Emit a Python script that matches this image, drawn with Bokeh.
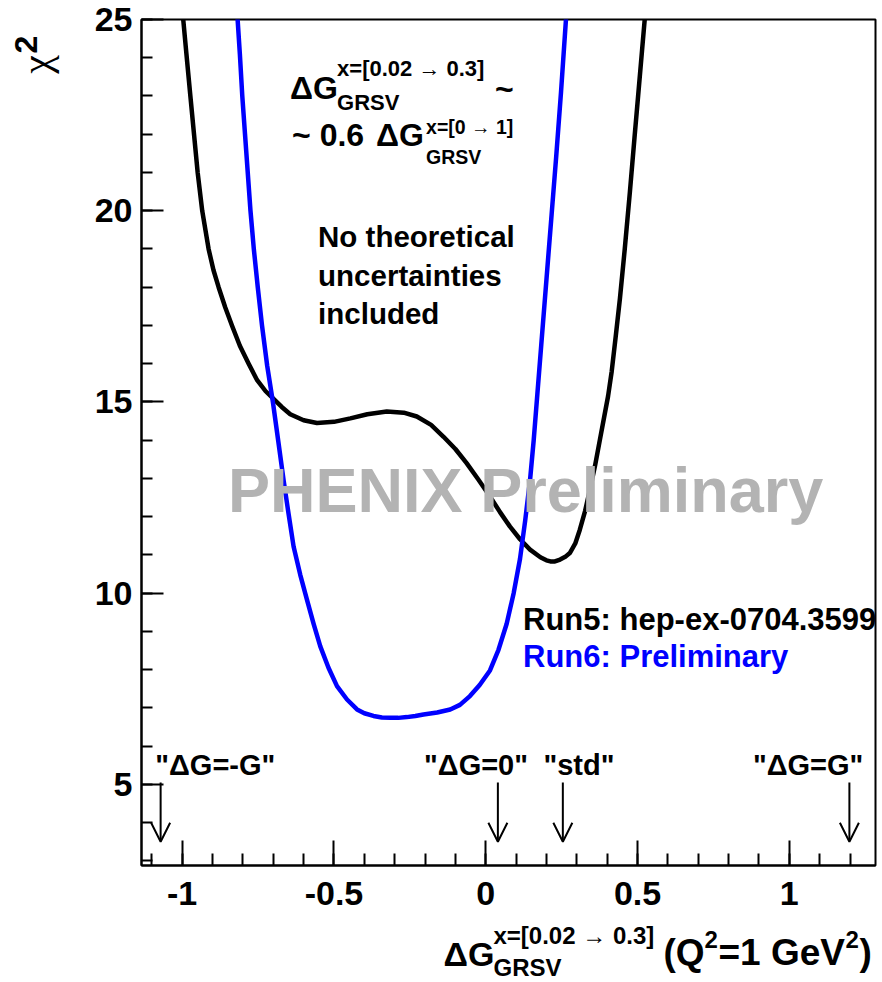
from bokeh.plotting import figure
from bokeh.layouts import column, row
from bokeh.models import Label, Arrow, OpenHead, FixedTicker, Range1d, ColumnDataSource
from bokeh.core.properties import value
from bokeh.embed import file_html
from bokeh.resources import INLINE

# ---------------- data ----------------
run5_x = [-1.000, -0.986, -0.973, -0.961, -0.949, -0.934, -0.913, -0.897, -0.880, -0.858,
          -0.836, -0.810, -0.781, -0.753, -0.725, -0.704, -0.672, -0.644, -0.600, -0.556,
          -0.500, -0.446, -0.390, -0.326, -0.270, -0.227, -0.180, -0.139, -0.100, -0.063,
          -0.025, 0.014, 0.047, 0.080, 0.113, 0.146, 0.180, 0.200, 0.213, 0.228,
          0.245, 0.262, 0.277, 0.295, 0.310, 0.327, 0.343, 0.360, 0.376, 0.390,
          0.403, 0.415, 0.428, 0.442, 0.458, 0.475, 0.490, 0.502, 0.515, 0.527]
run5_chi2 = [25.3, 24.1, 23.0, 22.0, 21.0, 20.0, 19.0, 18.45, 18.0, 17.47,
             17.0, 16.47, 16.0, 15.57, 15.28, 15.12, 14.87, 14.68, 14.52, 14.45,
             14.48, 14.57, 14.68, 14.75, 14.72, 14.62, 14.40, 14.09, 13.77, 13.40,
             12.98, 12.53, 12.12, 11.74, 11.41, 11.14, 10.94, 10.86, 10.83, 10.83,
             10.88, 10.95, 11.05, 11.30, 11.66, 12.14, 12.70, 13.33, 14.01, 14.6,
             15.15, 15.8, 16.7, 17.7, 19.0, 20.5, 21.9, 23.0, 24.2, 25.3]

run6_x = [-0.819, -0.810, -0.802, -0.793, -0.784, -0.775, -0.764, -0.751, -0.737, -0.720,
          -0.701, -0.683, -0.666, -0.650, -0.633, -0.611, -0.589, -0.567, -0.545, -0.518,
          -0.490, -0.457, -0.424, -0.400, -0.370, -0.342, -0.315, -0.288, -0.260, -0.232,
          -0.205, -0.160, -0.117, -0.085, -0.052, -0.020, 0.014, 0.042, 0.069, 0.092,
          0.113, 0.130, 0.146, 0.158, 0.170, 0.183, 0.200, 0.217, 0.232, 0.248, 0.266]
run6_chi2 = [25.2, 24.1, 23.0, 22.0, 21.0, 20.0, 19.0, 18.0, 17.0, 15.95,
             14.99, 13.95, 12.96, 12.1, 11.22, 10.48, 9.83, 9.2, 8.61, 8.05,
             7.57, 7.22, 6.96, 6.86, 6.79, 6.75, 6.74, 6.74, 6.76, 6.79,
             6.83, 6.88, 6.96, 7.08, 7.31, 7.60, 7.98, 8.52, 9.20, 10.0,
             10.9, 11.9, 12.96, 14.0, 15.2, 16.5, 18.2, 19.9, 21.4, 23.1, 25.2]

x_major = [-1, -0.5, 0, 0.5, 1]
x_major_labels = ["-1", "-0.5", "0", "0.5", "1"]
x_minor = [round(-1.1 + 0.1 * i, 2) for i in range(24)]
y_major = [5, 10, 15, 20, 25]
y_minor = list(range(3, 26))

model_names = ['"\u0394G=-G"', '"\u0394G=0"', '"std"', '"\u0394G=G"']
model_dg = [-1.071, 0.040, 0.254, 1.198]
model_label_x = [-0.891, -0.032, 0.307, 1.062]
arrow_top = 5.05
arrow_tip = 3.5

# axis-title pieces (text, size, x, baseline) in their own strips
xtitle_text = ["\u0394G", "x=[0.02 \u2192 0.3]", "GRSV", "(Q", "2", "=1 GeV", "2", ")"]
xtitle_size = ["34px", "24px", "24px", "37px", "24px", "37px", "24px", "37px"]
xtitle_x = [443, 493, 493, 663, 704, 718, 845, 859]
xtitle_base = [31, 13, 45, 30, 17, 30, 17, 30]

FONT = "Liberation Sans"
W, H_MAIN, W_Y, H_X = 882, 922, 70, 60

# ---------------- main figure ----------------
p = figure(width=W - W_Y, height=H_MAIN, output_backend="svg", toolbar_location=None,
           x_range=Range1d(-1.134, 1.284), y_range=Range1d(2.88, 25.0),
           min_border_left=71, min_border_right=7, min_border_top=19, min_border_bottom=57)
p.grid.visible = False
p.background_fill_color = "white"
p.border_fill_color = "white"
p.outline_line_color = "black"
p.outline_line_width = 2

p.xaxis.ticker = FixedTicker(ticks=x_major, minor_ticks=x_minor)
p.xaxis.major_label_overrides = {t: l for t, l in zip(x_major, x_major_labels)}
p.yaxis.ticker = FixedTicker(ticks=y_major, minor_ticks=y_minor)

for ax, maj, mnr in ((p.xaxis, 25, 12), (p.yaxis, 22, 11)):
    ax.axis_line_width = 2
    ax.axis_line_color = "black"
    ax.major_tick_in = maj
    ax.major_tick_out = 0
    ax.minor_tick_in = mnr
    ax.minor_tick_out = 0
    ax.major_tick_line_width = 2
    ax.minor_tick_line_width = 2
    ax.major_tick_line_color = "black"
    ax.minor_tick_line_color = "black"
    ax.major_label_text_font = FONT
    ax.major_label_text_font_style = "bold"
    ax.major_label_text_font_size = "34px"
    ax.major_label_text_color = "black"
p.xaxis.major_label_standoff = 16
p.yaxis.major_label_standoff = 9

# curves
p.line(run5_x, run5_chi2, line_width=4.5, line_color="black", line_join="round")
p.line(run6_x, run6_chi2, line_width=4.5, line_color="#0000ff", line_join="round")

# model arrows
src = ColumnDataSource(dict(x=model_dg, y0=[arrow_top] * 4, y1=[arrow_tip] * 4))
p.add_layout(Arrow(end=OpenHead(size=19, line_width=2, line_color="black"),
                   x_start="x", y_start="y0", x_end="x", y_end="y1",
                   line_width=2, line_color="black", source=src))
lsrc = ColumnDataSource(dict(x=model_label_x, y=[5.51] * 4, t=model_names))
p.text(x="x", y="y", text="t", source=lsrc, text_font=value(FONT), text_font_style="bold",
       text_font_size="29px", text_align="center", text_baseline="alphabetic", text_color="black")


def lab(sx, sy, text, size, color="black"):
    p.add_layout(Label(x=sx, y=sy, x_units="data", y_units="data", text=text,
                       text_font=FONT, text_font_style="bold",
                       text_font_size=size, text_color=color,
                       text_align="left", text_baseline="alphabetic"))


def dx(px):
    return (px - 485.7) / 303.6


def dy(py):
    return 25.0 - (py - 19.0) / 38.25


# annotation block
lab(dx(290), dy(87.5), "\u0394G", "32px")
lab(dx(337), dy(68), "x=[0.02 \u2192 0.3]", "22px")
lab(dx(337), dy(102), "GRSV", "22px")
lab(dx(495), dy(89), "~", "32px")
lab(dx(292), dy(134.5), "~ 0.6", "32px")
lab(dx(376), dy(134.5), "\u0394G", "32px")
lab(dx(426), dy(127), "x=[0 \u2192 1]", "19.5px")
lab(dx(426), dy(157), "GRSV", "19.5px")

lab(dx(318), dy(236.4), "No theoretical", "29.5px")
lab(dx(318), dy(275.4), "uncertainties", "29.5px")
lab(dx(318), dy(313.4), "included", "29.5px")

lab(dx(228), dy(490), "PHENIX Preliminary", "63px", color="#b3b3b3")

lab(dx(523), dy(619), "Run5: hep-ex-0704.3599", "31px")
lab(dx(523), dy(656), "Run6: Preliminary", "31px", color="#0000ff")

# ---------------- y-title strip ----------------
py_fig = figure(width=W_Y, height=H_MAIN, output_backend="svg", toolbar_location=None,
                x_range=Range1d(0, W_Y), y_range=Range1d(H_MAIN, 0),
                x_axis_type=None, y_axis_type=None, min_border=0)
py_fig.grid.visible = False
py_fig.outline_line_color = None
py_fig.text(x=[35], y=[59], text=["\u03c7"], angle=1.5708, text_font=value("Liberation Serif"),
            text_font_style="normal", text_font_size="42px", text_color="black",
            text_baseline="alphabetic", text_align="left")
py_fig.text(x=[25], y=[37], text=["2"], angle=1.5708, text_font=value(FONT),
            text_font_style="bold", text_font_size="32px", text_color="black",
            text_baseline="alphabetic", text_align="left")

# ---------------- x-title strip ----------------
px_fig = figure(width=W, height=H_X, output_backend="svg", toolbar_location=None,
                x_range=Range1d(0, W), y_range=Range1d(H_X, 0),
                x_axis_type=None, y_axis_type=None, min_border=0)
px_fig.grid.visible = False
px_fig.outline_line_color = None
xsrc = ColumnDataSource(dict(x=xtitle_x, y=xtitle_base, t=xtitle_text, s=xtitle_size))
px_fig.text(x="x", y="y", text="t", text_font_size="s", source=xsrc, text_font=value(FONT),
            text_font_style="bold", text_color="black", text_baseline="alphabetic",
            text_align="left")

layout = column(row(py_fig, p, spacing=0), px_fig, spacing=0)
open("out.html", "w").write(file_html(layout, INLINE))
